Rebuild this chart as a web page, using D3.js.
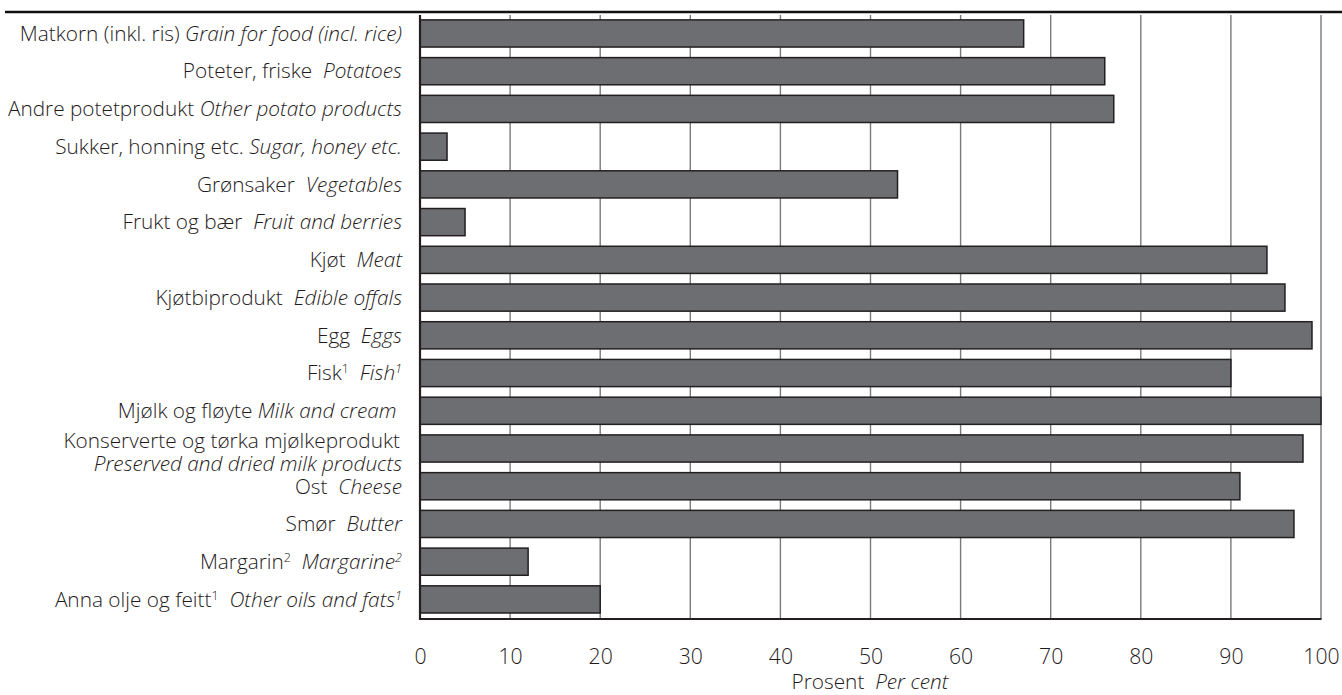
<!DOCTYPE html>
<html>
<head>
<meta charset="utf-8">
<script src="https://cdn.jsdelivr.net/npm/d3@7"></script>
<style>
  html, body { margin: 0; padding: 0; background: #fff; }
  svg { display: block; }
  text { font-family: "Open Sans", sans-serif; font-weight: 300; fill: #1f1b1c; white-space: pre; }
</style>
</head>
<body>
<svg id="chart" width="1342" height="695"></svg>
<script>
// ---- Data ----
const labelsNo = [
  "Matkorn (inkl. ris) ", "Poteter, friske  ", "Andre potetprodukt ", "Sukker, honning etc. ",
  "Grønsaker  ", "Frukt og bær  ", "Kjøt  ", "Kjøtbiprodukt  ", "Egg  ", "Fisk",
  "Mjølk og fløyte ", "Konserverte og tørka mjølkeprodukt", "Ost  ", "Smør  ", "Margarin", "Anna olje og feitt"
];
const labelsEn = [
  "Grain for food (incl. rice)", "Potatoes", "Other potato products", "Sugar, honey etc.",
  "Vegetables", "Fruit and berries", "Meat", "Edible offals", "Eggs", "Fish",
  "Milk and cream ", "Preserved and dried milk products", "Cheese", "Butter", "Margarine", "Other oils and fats"
];
const footnotes = ["", "", "", "", "", "", "", "", "", "1", "", "", "", "", "2", "1"];
const values = [67, 76, 77, 3, 53, 5, 94, 96, 99, 90, 100, 98, 91, 97, 12, 20];
const xTicks = [0, 10, 20, 30, 40, 50, 60, 70, 80, 90, 100];
const xTitleNo = "Prosent  ";
const xTitleEn = "Per cent";

// ---- Layout ----
const svg = d3.select("#chart");
const plotLeft = 420, plotRight = 1321, plotTop = 14.6, plotBottom = 619;
const fs = 20.8;
const idx = d3.range(values.length);

const x = d3.scaleLinear().domain([0, 100]).range([plotLeft, plotRight]);
const y = d3.scaleBand().domain(idx).range([plotTop, plotTop + 16 * 37.73]).paddingInner(0.28).paddingOuter(0.14);

// top rule
svg.append("line").attr("x1", 5).attr("x2", 1342).attr("y1", 12).attr("y2", 12)
  .attr("stroke", "#111").attr("stroke-width", 2.5);

// grid lines
svg.append("g").selectAll("line").data(xTicks.filter(d => d > 0)).join("line")
  .attr("x1", d => x(d)).attr("x2", d => x(d))
  .attr("y1", 15).attr("y2", plotBottom)
  .attr("stroke", "#7a7a7a").attr("stroke-width", 1.4);

// bars
svg.append("g").selectAll("rect").data(idx).join("rect")
  .attr("x", x(0))
  .attr("y", i => y(i))
  .attr("width", i => x(values[i]) - x(0))
  .attr("height", y.bandwidth())
  .attr("fill", "#6d6e71")
  .attr("stroke", "#231f20")
  .attr("stroke-width", 1.5);

// axes lines
svg.append("line").attr("x1", plotLeft).attr("x2", plotLeft).attr("y1", 15).attr("y2", plotBottom + 1)
  .attr("stroke", "#231f20").attr("stroke-width", 2.2);
svg.append("line").attr("x1", plotLeft - 1).attr("x2", plotRight + 0.5).attr("y1", plotBottom).attr("y2", plotBottom)
  .attr("stroke", "#231f20").attr("stroke-width", 2.2);

// x tick labels
const xAxis = d3.axisBottom(x).tickValues(xTicks).tickSize(0).tickPadding(0);
const gx = svg.append("g").attr("transform", `translate(0, 664)`).call(xAxis);
gx.select(".domain").remove();
gx.selectAll("text").attr("font-family", "Open Sans, sans-serif").attr("font-size", 21.2)
  .attr("fill", "#1f1b1c").attr("dy", 0);

// x title
const xt = svg.append("text").attr("x", 870).attr("y", 689).attr("text-anchor", "middle").attr("font-size", fs);
xt.append("tspan").text(xTitleNo);
xt.append("tspan").attr("font-style", "italic").text(xTitleEn);

// category labels
const labelX = 402;
idx.forEach(i => {
  const cy = y(i) + y.bandwidth() / 2;
  if (i === 11) {
    svg.append("text").attr("x", labelX - 2).attr("y", cy - 8).attr("dy", "0.35em")
      .attr("text-anchor", "end").attr("font-size", fs).text(labelsNo[i]);
    svg.append("text").attr("x", labelX).attr("y", cy + 15).attr("dy", "0.35em")
      .attr("text-anchor", "end").attr("font-size", fs).attr("font-style", "italic").text(labelsEn[i]);
    return;
  }
  const t = svg.append("text").attr("x", labelX).attr("y", cy).attr("dy", "0.35em")
    .attr("text-anchor", "end").attr("font-size", fs);
  t.append("tspan").text(labelsNo[i]);
  if (footnotes[i]) {
    t.append("tspan").attr("font-size", 12.5).attr("dy", -7).text(footnotes[i]);
    t.append("tspan").attr("dy", 7).text("  ");
  }
  t.append("tspan").attr("font-style", "italic").text(labelsEn[i]);
  if (footnotes[i]) {
    t.append("tspan").attr("font-size", 12.5).attr("font-style", "italic").attr("dy", -7).text(footnotes[i]);
  }
});
</script>
</body>
</html>
